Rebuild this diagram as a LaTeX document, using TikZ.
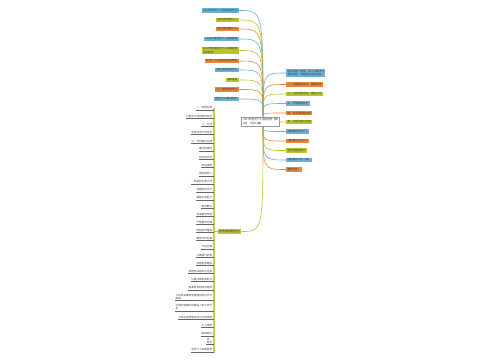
\documentclass[tikz,border=0pt]{standalone}
\usepackage{fontspec}
\newfontfamily\cjk{Noto Sans CJK SC}
\definecolor{cblue}{HTML}{6BB0D6}
\definecolor{cyel}{HTML}{B8C42C}
\definecolor{corg}{HTML}{E8873A}
\definecolor{cbar}{HTML}{C3CD52}
\tikzset{
  tiny/.style={font=\cjk\fontsize{2.6}{3.1}\selectfont},
  box/.style={tiny, inner xsep=1.4pt, inner ysep=0.9pt, align=left, text=black!78},
  rootbox/.style={tiny, draw=black!40, fill=white, line width=0.5pt, inner xsep=2pt, inner ysep=1.6pt, align=left, text=black!80},
  conn/.style={line width=0.6pt},
  leaf/.style={tiny, inner xsep=0.3pt, inner ysep=0.7pt, anchor=south east, align=left, text=black!75},
  uline/.style={draw=black!60, line width=0.55pt},
}
\begin{document}
\begin{tikzpicture}[x=1pt,y=-1pt]
\useasboundingbox (0,0) rectangle (500,360);
\coordinate (rt) at (263,116);
\coordinate (rb) at (263,127);
\coordinate (bar) at (214,108);
\coordinate (barend) at (214,353);
% left upper nodes
\foreach \i/\y/\c/\t in {
 1/10.5/cblue/{2017年党员个人述职报告范文},
 2/20/cyel/{党员述职报告(一)},
 3/29/corg/{党员述职报告(二)},
 4/39/cblue/{2017年度党员个人述职报告},
 5/50.5/cyel/{2017年普通党员个人述职报告\\范文精选},
 6/61/corg/{党员个人年度述职报告精选},
 7/70/cblue/{党员述职报告范文},
 8/80/cyel/{述职报告},
 9/89.5/corg/{个人述职报告范文},
 10/99/cblue/{党员个人述职报告3}}{
  \node[box, fill=\c, anchor=east] (L\i) at (239,\y) {\t};
  \draw[conn, draw=\c] (rt) .. controls (rt |- L\i.east) .. (L\i.east);
}
% right nodes
\foreach \i/\y/\c/\s/\t in {
 1/73/cblue/rt/{在过去的一年里，本人认真学习\\党的理论，积极参加组织活动},
 2/84.5/corg/rt/{一、加强理论学习，提高思想},
 3/94/cyel/rt/{二、立足本职岗位，做好工作},
 4/103.5/cblue/rt/{三、严格要求自己},
 5/113/corg/rt/{四、存在的问题不足},
 6/122/cyel/rb/{五、今后的努力方向},
 7/131.5/cblue/rb/{述职报告范文(一)},
 8/141/corg/rb/{述职报告范文(二)},
 9/150.5/cyel/rb/{党员述职报告三},
 10/160/cblue/rb/{述职报告范文（四）},
 11/169.5/corg/rb/{推荐阅读：}}{
  \node[box, fill=\c, anchor=west] (R\i) at (286,\y) {\t};
  \draw[conn, draw=\c] (\s) .. controls (\s |- R\i.west) .. (R\i.west);
}
% bottom-left section node
\node[box, fill=cyel, anchor=west] (S) at (217.5,231.5) {党员述职报告全文};
\draw[conn, draw=cyel] (rb) .. controls (rb |- S.east) .. (S.east);
\draw[draw=cbar, line width=1.3pt] (bar) -- (barend);
\draw[conn, draw=cyel] (S.west) -- (S.west -| bar);
% leaves
\foreach \i/\y/\t in {
 1/110/{一、思想方面},
 2/118.3/{认真学习党的理论知识},
 3/126.7/{二、工作},
 4/134.3/{完成各项工作任务},
 5/143.3/{三、作风建设方面},
 6/151/{廉洁自律好},
 7/159.3/{存在的不足},
 8/167.3/{改进措施},
 9/176/{述职报告二},
 10/184/{一年来的主要工作},
 11/192/{加强政治学习},
 12/200/{提高业务能力},
 13/208.3/{服务群众},
 14/216.7/{发挥模范作用},
 15/224.5/{严格遵守纪律},
 16/232.7/{团结协作精神},
 17/240.7/{勤俭节约办事},
 18/249/{今后打算},
 19/257.3/{认真履行职责},
 20/265.7/{加强自身建设},
 21/273.5/{积极参加组织生活会},
 22/281.7/{认真开展自我批评},
 23/290/{提高自身的综合素质},
 24/300.5/{今后我将继续加强理论知识学习\\提高},
 25/311/{以更加饱满的热情投入到工作中\\去},
 26/319.3/{为单位发展做出自己应有贡献},
 27/327.5/{以上述职},
 28/335.8/{敬请审议},
 29/344.2/{另\\附件},
 30/352/{党员个人述职报告}}{
  \node[leaf] (l\i) at (212.6,\y) {\t};
  \draw[uline] (l\i.south west) -- (l\i.south west -| bar);
}
% root
\node[rootbox] (root) at (260.5,121.5) {2017年党员个人述职报告【精\\选】（范文3篇）};
\end{tikzpicture}
\end{document}
